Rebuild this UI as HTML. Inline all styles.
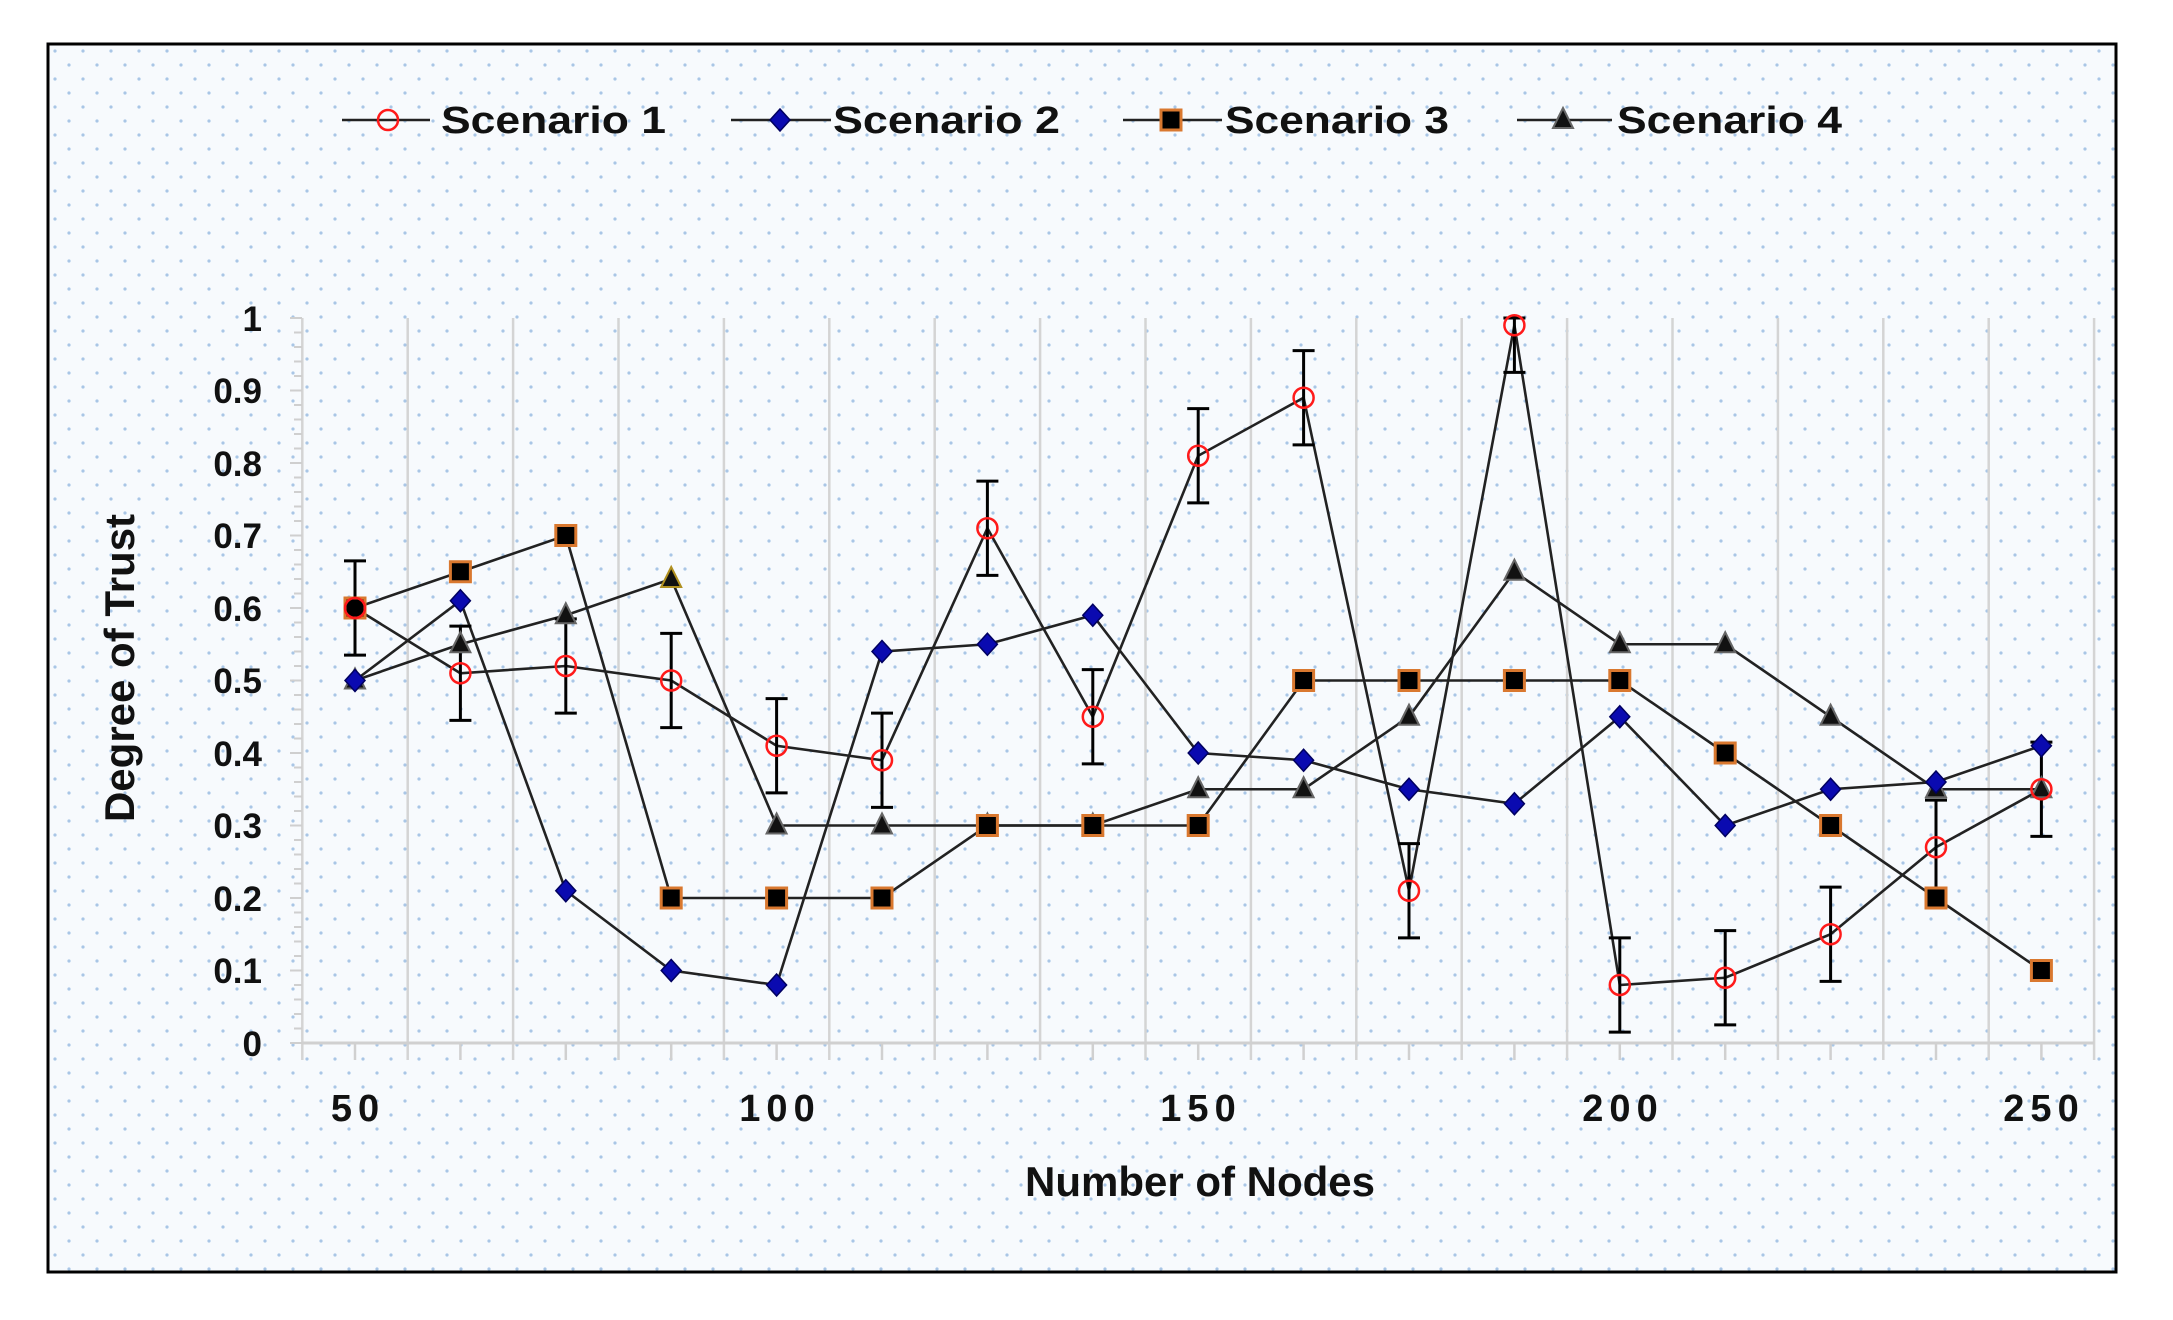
<!DOCTYPE html>
<html><head><meta charset="utf-8"><style>
html,body{margin:0;padding:0;background:#fff;}
svg{display:block;}
text{font-family:"Liberation Sans",sans-serif;font-weight:bold;fill:#111;}
</style></head><body>
<svg id="s" width="2173" height="1320" viewBox="0 0 2173 1320" xmlns="http://www.w3.org/2000/svg">
<defs>
<pattern id="dots" x="48" y="44" width="28" height="28" patternUnits="userSpaceOnUse">
<rect width="28" height="28" fill="#f7fafd"/>
<circle cx="7" cy="7" r="1.6" fill="#a9c6e6"/>
<circle cx="21" cy="21" r="1.6" fill="#a9c6e6"/>
</pattern>
</defs>
<rect x="0" y="0" width="2173" height="1320" fill="#fff"/>
<rect x="48" y="44" width="2068" height="1228" fill="url(#dots)" stroke="#000" stroke-width="3"/>
<g id="grid"></g>
<g id="series"></g>
<g font-size="35" text-anchor="end">
<text x="262" y="1056">0</text>
<text x="262" y="983">0.1</text>
<text x="262" y="911">0.2</text>
<text x="262" y="838">0.3</text>
<text x="262" y="766">0.4</text>
<text x="262" y="693">0.5</text>
<text x="262" y="621">0.6</text>
<text x="262" y="548">0.7</text>
<text x="262" y="476">0.8</text>
<text x="262" y="403">0.9</text>
<text x="262" y="331">1</text>
</g>
<g font-size="38" text-anchor="middle" letter-spacing="6">
<text x="358" y="1121">50</text>
<text x="780" y="1121">100</text>
<text x="1201" y="1121">150</text>
<text x="1623" y="1121">200</text>
<text x="2044" y="1121">250</text>
</g>
<text x="1200" y="1196" font-size="42" text-anchor="middle">Number of Nodes</text>
<text transform="translate(134,668) rotate(-90)" font-size="42" text-anchor="middle">Degree of Trust</text>
<g font-size="38" font-weight="normal">
<text x="441" y="133" textLength="225" lengthAdjust="spacingAndGlyphs">Scenario 1</text>
<text x="833" y="133" textLength="227" lengthAdjust="spacingAndGlyphs">Scenario 2</text>
<text x="1225" y="133" textLength="224" lengthAdjust="spacingAndGlyphs">Scenario 3</text>
<text x="1617" y="133" textLength="225" lengthAdjust="spacingAndGlyphs">Scenario 4</text>
</g>
<g id="legend"></g>
</svg>
<script>
var NS="http://www.w3.org/2000/svg";
function el(p,t,a){var e=document.createElementNS(NS,t);for(var k in a)e.setAttribute(k,a[k]);p.appendChild(e);return e;}
var X=function(i){return 355+105.4*i;}, Y=function(v){return 1043-725*v;};
var g=document.getElementById('grid');
for(var i=0;i<=17;i++){var x=302.3+105.4*i; el(g,'line',{x1:x,y1:318,x2:x,y2:1060,stroke:'#d4d4d4','stroke-width':2.5});}
el(g,'line',{x1:302,y1:1043,x2:2094,y2:1043,stroke:'#d0d0d0','stroke-width':3});
for(var i=0;i<=16;i++){el(g,'line',{x1:X(i),y1:1043,x2:X(i),y2:1060,stroke:'#d0d0d0','stroke-width':2.5});}
for(var j=0;j<=50;j++){var y=1043-725*j/50; el(g,'line',{x1:(j%5==0?290:294),y1:y,x2:302,y2:y,stroke:'#cfcfcf','stroke-width':2});}
var S1=[0.6,0.51,0.52,0.5,0.41,0.39,0.71,0.45,0.81,0.89,0.21,0.99,0.08,0.09,0.15,0.27,0.35];
var S2=[0.5,0.61,0.21,0.1,0.08,0.54,0.55,0.59,0.4,0.39,0.35,0.33,0.45,0.3,0.35,0.36,0.41];
var S3=[0.6,0.65,0.7,0.2,0.2,0.2,0.3,0.3,0.3,0.5,0.5,0.5,0.5,0.4,0.3,0.2,0.1];
var S4=[0.5,0.55,0.59,0.64,0.3,0.3,0.3,0.3,0.35,0.35,0.45,0.65,0.55,0.55,0.45,0.35,0.35];
var s=document.getElementById('series');
function line(d){var p='';d.forEach(function(v,i){p+=(i?'L':'M')+X(i)+','+Y(v);});el(s,'path',{d:p,fill:'none',stroke:'#222','stroke-width':2.6});}
[S1,S2,S3,S4].forEach(line);
S1.forEach(function(v,i){var a=Y(Math.min(1,v+0.065)),b=Y(v-0.065),x=X(i);
el(s,'line',{x1:x,y1:a,x2:x,y2:b,stroke:'#000','stroke-width':3});
el(s,'line',{x1:x-11,y1:a,x2:x+11,y2:a,stroke:'#000','stroke-width':3});
el(s,'line',{x1:x-11,y1:b,x2:x+11,y2:b,stroke:'#000','stroke-width':3});});
function tri(p,x,y,c){el(p,'path',{d:'M'+x+','+(y-12)+'L'+(x+10)+','+(y+8)+'L'+(x-10)+','+(y+8)+'Z',fill:'#111',stroke:c||'#666','stroke-width':2});}
function dia(p,x,y){el(p,'path',{d:'M'+x+','+(y-11)+'L'+(x+10)+','+y+'L'+x+','+(y+11)+'L'+(x-10)+','+y+'Z',fill:'#0a0ab0',stroke:'#000060','stroke-width':1.5});}
function sq(p,x,y){el(p,'rect',{x:x-10,y:y-10,width:20,height:20,fill:'#000',stroke:'#d9782f','stroke-width':3});}
function circ(p,x,y){el(p,'circle',{cx:x,cy:y,r:10,fill:'none',stroke:'#ff1a1a','stroke-width':2.5});}
S4.forEach(function(v,i){tri(s,X(i),Y(v),i==3?'#b09020':null);});
S2.forEach(function(v,i){dia(s,X(i),Y(v));});
S3.forEach(function(v,i){sq(s,X(i),Y(v));});
S1.forEach(function(v,i){circ(s,X(i),Y(v));});
var L=document.getElementById('legend');
[[342,430,388,circ],[731,831,780,dia],[1123,1222,1171,sq],[1517,1612,1563,tri]].forEach(function(a){
el(L,'line',{x1:a[0],y1:120,x2:a[1],y2:120,stroke:'#222','stroke-width':2.6});a[3](L,a[2],120);});
</script>
</body></html>
